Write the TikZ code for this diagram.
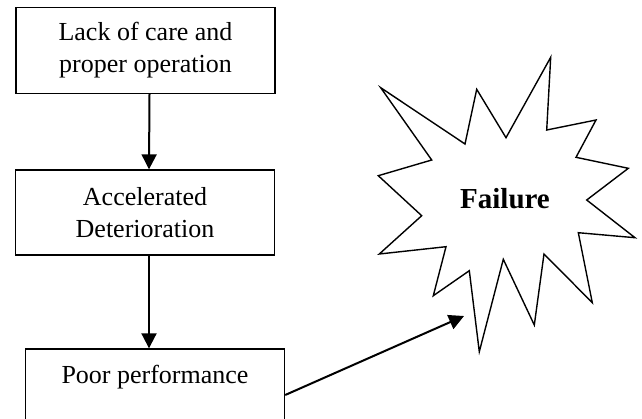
\documentclass[tikz,border=0pt]{standalone}
\usepackage{fontspec}
\setmainfont{Liberation Serif}
\usetikzlibrary{arrows.meta}
\tikzset{
  stepbox/.style={draw, line width=0.7pt, align=center, inner sep=0pt, minimum width=129.5pt, font=\fontsize{13}{16}\selectfont},
  flow/.style={-{Triangle[length=7.5pt,width=7.5pt]}, line width=1pt},
  burst/.style={line width=0.7pt, line join=miter}
}
\begin{document}
\begin{tikzpicture}[x=0.5pt,y=-0.5pt]
\useasboundingbox (0,0) rectangle (642,418);
\clip (0,0) rectangle (642,418);
\node[stepbox, minimum height=43pt] (care) at (145.5,50.5) {Lack of care and\\proper operation};
\node[stepbox, minimum height=42.5pt] (accel) at (145,212.5) {Accelerated\\Deterioration};
\node[stepbox, minimum height=46pt] (poor) at (155,395) {Poor performance\\\strut};
\draw[flow] ([xshift=2pt]care.south) -- ([xshift=2pt]accel.north);
\draw[flow] ([xshift=2pt]accel.south) -- ([xshift=2pt]accel.south |- poor.north);
% the burst
\draw[burst] (380.7,87.7) -- (465,144) -- (476.7,89.3) -- (506,137.7) -- (550.7,57.3)
  -- (546.7,130) -- (596,120) -- (576,157.3) -- (628.3,168.3) -- (586.7,200)
  -- (635,237.7) -- (578.3,232.7) -- (592.3,302.7) -- (544,254) -- (534.3,325)
  -- (503.3,259.3) -- (479.3,351.7) -- (469.3,270.7) -- (433.3,295.7) -- (446,246.7)
  -- (379.3,254) -- (421.7,215.7) -- (378.3,175.7) -- (431.7,160) -- cycle;
\node[font=\fontsize{14.5}{17}\selectfont\bfseries] (fail) at (505,199) {Failure};
\coordinate (hit) at (464,316);
\draw[flow] (poor.east) -- (hit);
\end{tikzpicture}
\end{document}
